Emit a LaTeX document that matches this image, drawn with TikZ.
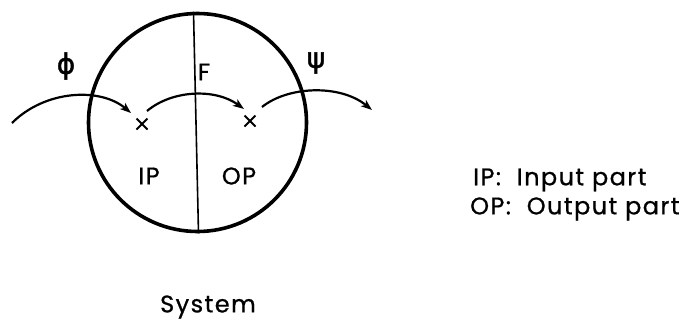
\documentclass[tikz,border=0pt]{standalone}
\usepackage{fontspec}
\setmainfont{Poppins}[LetterSpace=6, FakeBold=0.8]
\newfontfamily\greekfont{DejaVu Sans}[FakeBold=1.5]
\usetikzlibrary{arrows.meta, shapes.misc}

\tikzset{
  label/.style={font=\fontsize{24}{27}\selectfont, inner sep=0pt},
  mark x/.style={cross out, draw, line width=2pt, minimum size=9pt, inner sep=0pt},
  flow/.style={line width=2.2pt, -{Stealth[length=11pt, width=8pt, inset=3pt]}}
}

\begin{document}
\begin{tikzpicture}[x=1pt, y=-1pt]
			\useasboundingbox (0,0) rectangle (682,325);
			% the system
			\node[circle, draw, line width=3.6pt, minimum size=218pt, inner sep=0pt] (sys) at (197.5,122.5) {};
			\draw[line width=1.6pt] ([xshift=-4pt]sys.north) -- ([xshift=1pt]sys.south);
			\node[label] (F) at (204,72) {F};
			\node[label] (ipl) at (149,176) {IP};
			\node[label] (opl) at (239,176) {OP};
			% input and output points
			\node[mark x] (ip) at (142,124) {};
			\node[mark x] (op) at (250,121) {};
			\coordinate (in) at (12,123);
			\coordinate (out) at (372,110);
			\draw[flow] (in) .. controls (45,90) and (100,87) .. ([shift={(-11,-11)}]ip.center);
			\draw[flow] ([shift={(5,-13)}]ip.center) .. controls (172,90) and (215,88) .. ([shift={(-6,-12)}]op.center);
			\draw[flow] ([shift={(12,-14)}]op.center) .. controls (288,86) and (340,84) .. (out);
			\node[font=\greekfont\fontsize{28}{30}\selectfont] (phi) at (66,66) {ϕ};
			\node[font=\greekfont\fontsize{28}{30}\selectfont] (psi) at (316,63) {ψ};
			% legend
			\node[label, anchor=west] (leg1) at (473,180) {IP:\,\, Input part};
			\node[label, anchor=west] (leg2) at (470,209) {OP:\,\, Output part};
			\node[label] (sysl) at (208,307) {System};
		\end{tikzpicture}
\end{document}
